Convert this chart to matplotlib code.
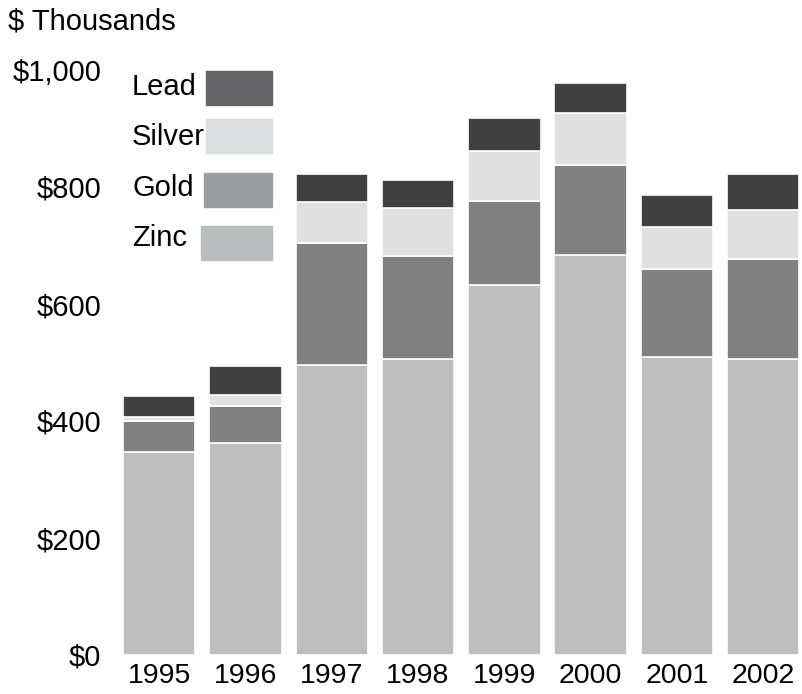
import matplotlib
matplotlib.use("Agg")
import matplotlib.pyplot as plt
from matplotlib.patches import Rectangle
import numpy as np

plt.rcParams['font.family'] = ['Liberation Sans', 'DejaVu Sans']

# data ($ thousands)
years = ['1995', '1996', '1997', '1998', '1999', '2000', '2001', '2002']
zinc = [347, 362, 496, 506, 632, 684, 509, 506]
gold = [53, 64, 208, 176, 144, 154, 151, 171]
silver = [7, 18, 70, 82, 86, 88, 72, 84]
lead = [36, 50, 48, 48, 56, 52, 54, 61]

series = ['Zinc', 'Gold', 'Silver', 'Lead']
values = [zinc, gold, silver, lead]
bar_colors = ['#bebebe', '#808080', '#e0e0e0', '#404040']
legend_colors = ['#bbbcbe', '#9a9c9e', '#dcdddf', '#646466']
yticks = [0, 200, 400, 600, 800, 1000]
ytick_labels = ['$0', '$200', '$400', '$600', '$800', '$1,000']

W, H = 802, 694
fig = plt.figure(figsize=(W / 100, H / 100), dpi=100)

# axes placed in pixel terms: x from 116px to 802px, y from 655px (zero) to 70px (1,000)
left, right, bottom, top = 116, 802, 655, 70
ax = fig.add_axes([left / W, (H - bottom) / H, (right - left) / W, (bottom - top) / H])

x = np.arange(len(years))
base = np.zeros(len(years))
for name, vals, col in zip(series, values, bar_colors):
    ax.bar(x, vals, width=0.84, bottom=base, color=col, edgecolor='white',
           linewidth=1.2, label=name)
    base += np.array(vals)

step = 86.3  # px per category
ax.set_xlim(-0.5, -0.5 + (right - left) / step)
ax.set_ylim(0, 1000)
ax.set_xticks(x)
ax.set_xticklabels(years, fontsize=20.5)
ax.set_yticks(yticks)
ax.set_yticklabels(ytick_labels, fontsize=21)
ax.tick_params(length=0)
ax.tick_params(axis='x', pad=5.5)
ax.tick_params(axis='y', pad=10.5)
for s in ax.spines.values():
    s.set_visible(False)

fig.text(8 / W, 1 - 22 / H, '$ Thousands', fontsize=21, va='center', ha='left')

# manual legend: label on the left, swatch on the right
leg_y = [238, 188, 137, 87]      # text centres, px from top
sw_y = [243, 190, 136, 88]       # swatch centres
sw_left = [201, 204, 206, 206]
for name, col, yc, sy, sl in zip(series, legend_colors, leg_y, sw_y, sw_left):
    fig.text(132 / W, 1 - yc / H, name, fontsize=21, va='center', ha='left')
    fig.patches.append(Rectangle((sl / W, 1 - (sy + 17) / H), (272 - sl) / W, 34 / H,
                                 transform=fig.transFigure, color=col, zorder=3))

fig.savefig('out.png', dpi=100)
